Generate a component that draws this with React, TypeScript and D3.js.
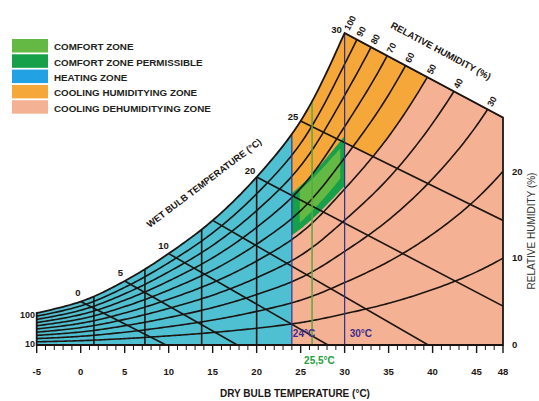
import React, { useRef, useEffect } from 'react';
import * as d3 from 'd3';

// saturation humidity (g/kg)
const satTemps = [-5, 0, 5, 10, 15, 20, 25, 30, 35, 40, 45, 48];
const satHumidity = [2.8, 3.8, 5.6, 8.0, 10.9, 14.7, 19.6, 27.3, 36.5, 48.5, 64, 76];

const rhCurves = [10, 20, 30, 40, 50, 60, 70, 80, 90];
const rhTopLabels = [100, 90, 80, 70, 60, 50, 40, 30];
const rhRightLabels = [0, 10, 20];
const rhLeftLabels = [100, 10];

// wet bulb lines: start on the saturation curve, end point
const wetBulbTemps = [0, 5, 10, 15, 20, 25, 30];
const wetBulbEnds: [number, number][] = [[9.7, 0], [17.8, 0], [28.1, 0], [39.5, 0], [48, 3.4], [48, 10.9], [48, 19.9]];
const wetBulbLabels = [0, 5, 10, 20, 25, 30];

const dryBulbLines = [1.5, 7.3, 13.75, 20];
const xTicks = [-5, 0, 5, 10, 15, 20, 25, 30, 35, 40, 45, 48];

const markerTemps = [24, 30, 26.3];
const markerLabels = ['24°C', '30°C', '25,5°C'];
const markerColors = ['#2e3192', '#2e3192', '#5aaa3c'];

// zones (temperature range, RH bounds at each end)
const permTemps = [24, 30];
const permLow = [52, 51];
const permHigh = [72, 67];
const comfortTemps = [24.9, 29.5];
const comfortLow = [55, 55];
const comfortHigh = [69.5, 65];

const legendLabels = ['COMFORT ZONE', 'COMFORT ZONE PERMISSIBLE', 'HEATING ZONE', 'COOLING HUMIDITYING ZONE', 'COOLING DEHUMIDITYING ZONE'];
const legendColors = ['#64b945', '#17a04a', '#22a2e4', '#f5a73a', '#f5b193'];

const FONT = '"Liberation Sans", Arial, sans-serif';

function ws(t: number) {
  const L = satHumidity.map(Math.log);
  const n = satTemps.length;
  let i = d3.bisectRight(satTemps, t) - 1;
  i = Math.max(0, Math.min(n - 2, i));
  const tan = (j: number) => {
    if (j === 0) return (L[1] - L[0]) / (satTemps[1] - satTemps[0]);
    if (j === n - 1) return (L[n - 1] - L[n - 2]) / (satTemps[n - 1] - satTemps[n - 2]);
    return (L[j + 1] - L[j - 1]) / (satTemps[j + 1] - satTemps[j - 1]);
  };
  const h = satTemps[i + 1] - satTemps[i];
  const s = (t - satTemps[i]) / h;
  const h00 = 2 * s ** 3 - 3 * s ** 2 + 1, h10 = s ** 3 - 2 * s ** 2 + s;
  const h01 = -2 * s ** 3 + 3 * s ** 2, h11 = s ** 3 - s ** 2;
  return Math.exp(h00 * L[i] + h10 * h * tan(i) + h01 * L[i + 1] + h11 * h * tan(i + 1));
}

function App() {
  const svgRef = useRef<SVGSVGElement>(null);

  useEffect(() => {
    const width = 539;
    const height = 401;
    const svg = d3.select(svgRef.current);
    svg.selectAll('*').remove();

    const x = d3.scaleLinear().domain([-5, 48]).range([36.7, 503]);
    const y = d3.scaleLinear().domain([0, 27.3]).range([345, 33]);
    const line = d3.line<[number, number]>().x(d => x(d[0])).y(d => y(d[1]));
    const steps = (a: number, b: number) => {
      const r = d3.range(a, b, 0.25);
      r.push(b);
      return r;
    };

    const wbLine = (k: number) => {
      const t0 = wetBulbTemps[k], w0 = ws(t0);
      const [t1, w1] = wetBulbEnds[k];
      return (t: number) => w0 + (w1 - w0) * (t - t0) / (t1 - t0);
    };
    const topW = wbLine(6);
    const solve = (f: (t: number) => number, a: number, b: number) => {
      for (let i = 0; i < 50; i++) {
        const m = (a + b) / 2;
        if (f(a) * f(m) <= 0) b = m; else a = m;
      }
      return (a + b) / 2;
    };

    // chart outline
    const outline: [number, number][] = steps(-5, 30).map(t => [t, ws(t)] as [number, number]);
    outline.push([48, topW(48)], [48, 0], [-5, 0]);

    svg.append('defs').append('clipPath').attr('id', 'area-clip')
      .append('path').attr('d', line(outline) + 'Z');

    const zones = svg.append('g').attr('clip-path', 'url(#area-clip)');

    // heating / dehumidifying zones
    zones.append('rect').attr('x', x(-5)).attr('y', 0)
      .attr('width', x(24) - x(-5)).attr('height', 345).attr('fill', '#4fc0d2');
    zones.append('rect').attr('x', x(24)).attr('y', 0)
      .attr('width', x(48) - x(24) + 1).attr('height', 345).attr('fill', '#f5b193');

    const band = (temps: number[], low: number[], high: number[]) => {
      const ts = steps(temps[0], temps[1]);
      const f = (t: number) => (t - temps[0]) / (temps[1] - temps[0]);
      const top = ts.map(t => [t, ws(t) * (high[0] + (high[1] - high[0]) * f(t)) / 100] as [number, number]);
      const bot = ts.slice().reverse().map(t => [t, ws(t) * (low[0] + (low[1] - low[0]) * f(t)) / 100] as [number, number]);
      return { top, pts: top.concat(bot) };
    };

    // humidifying zone
    const perm = band(permTemps, permLow, permHigh);
    const wb25 = wbLine(5);
    const tCross = solve(t => 0.5 * ws(t) - wb25(t), 30, 45);
    const orange: [number, number][] = [[24, 40], ...perm.top, [30, wb25(30)]];
    steps(30, tCross).forEach(t => orange.push([t, wb25(t)]));
    steps(tCross, 44).forEach(t => orange.push([t, 0.5 * ws(t)]));
    orange.push([44, 40]);
    zones.append('path').attr('d', line(orange) + 'Z').attr('fill', '#f5a73a');

    zones.append('path').attr('d', line(perm.pts) + 'Z').attr('fill', '#17a04a');
    const comfort = band(comfortTemps, comfortLow, comfortHigh);
    zones.append('path').attr('d', line(comfort.pts) + 'Z').attr('fill', '#64b945');

    const grid = svg.append('g').attr('clip-path', 'url(#area-clip)')
      .attr('fill', 'none').attr('stroke', '#1c1512').attr('stroke-width', 1.6);

    // relative humidity curves
    rhCurves.forEach(r => {
      grid.append('path').attr('d', line(steps(-5, 48).map(t => [t, ws(t) * r / 100] as [number, number])));
    });

    // dry bulb verticals
    dryBulbLines.forEach(t => {
      grid.append('line').attr('x1', x(t)).attr('x2', x(t)).attr('y1', y(0)).attr('y2', y(ws(t)));
    });

    // wet bulb lines
    wetBulbTemps.forEach((t, k) => {
      grid.append('line').attr('x1', x(t)).attr('y1', y(ws(t)))
        .attr('x2', x(wetBulbEnds[k][0])).attr('y2', y(wetBulbEnds[k][1]));
    });

    // marker lines
    markerTemps.forEach((t, i) => {
      svg.append('line').attr('x1', x(t)).attr('x2', x(t)).attr('y1', y(0))
        .attr('y2', t <= 30 ? y(ws(t)) : y(topW(t)))
        .attr('stroke', markerColors[i]).attr('stroke-width', i === 2 ? 1.5 : 1.2);
    });

    // outline
    svg.append('path').attr('d', line(outline) + 'Z')
      .attr('fill', 'none').attr('stroke', '#1c1512').attr('stroke-width', 1.8);

    // bottom axis
    const axis = svg.append('g').attr('stroke', '#1c1512');
    axis.append('line').attr('x1', x(-5)).attr('x2', x(48)).attr('y1', 345).attr('y2', 345).attr('stroke-width', 1.8);
    d3.range(-5, 48.01, 1).forEach(t => {
      const major = xTicks.includes(t);
      axis.append('line').attr('x1', x(t)).attr('x2', x(t)).attr('y1', 345)
        .attr('y2', major ? 353 : 350).attr('stroke-width', major ? 1.4 : 1);
    });

    const txt = svg.append('g').attr('font-family', FONT).attr('font-weight', 'bold').attr('fill', '#1c1512');

    xTicks.forEach(t => {
      txt.append('text').attr('x', x(t)).attr('y', 375).attr('text-anchor', 'middle')
        .attr('font-size', 9.5).text(t);
    });
    txt.append('text').attr('x', 295).attr('y', 397).attr('text-anchor', 'middle')
      .attr('font-size', 10).text('DRY BULB TEMPERATURE (°C)');

    // right axis labels
    rhRightLabels.forEach(r => {
      txt.append('text').attr('x', 512).attr('y', y(ws(48) * r / 100)).attr('dy', '0.35em')
        .attr('font-size', 9.5).text(r);
    });
    svg.append('text').attr('transform', 'translate(535,231) rotate(-90)')
      .attr('text-anchor', 'middle').attr('font-family', FONT).attr('font-size', 10)
      .attr('fill', '#333').text('RELATIVE HUMIDITY (%)');

    // left labels
    rhLeftLabels.forEach(r => {
      txt.append('text').attr('x', 35).attr('y', y(ws(-5) * r / 100) + 2).attr('dy', '0.35em')
        .attr('text-anchor', 'end').attr('font-size', 9).text(r);
    });

    // top RH labels
    const ang = Math.atan2(y(topW(48)) - y(topW(30)), x(48) - x(30));
    const nx = Math.sin(ang), ny = -Math.cos(ang);
    rhTopLabels.forEach(r => {
      const t = r === 100 ? 30 : solve(tt => r / 100 * ws(tt) - topW(tt), 30, 48);
      const px = x(t) + nx * 4, py = y(topW(t)) + ny * 4;
      txt.append('text').attr('transform', `translate(${px},${py}) rotate(${(ang * 180) / Math.PI - 90})`)
        .attr('dy', '0.35em').attr('font-size', 9).text(r);
    });
    txt.append('text').attr('transform', `translate(441,51) rotate(${(ang * 180) / Math.PI})`)
      .attr('text-anchor', 'middle').attr('dy', '0.35em').attr('font-size', 9.5).text('RELATIVE HUMIDITY (%)');

    // wet bulb labels
    wetBulbLabels.forEach(t => {
      const s = (y(ws(t + 0.1)) - y(ws(t - 0.1))) / (x(t + 0.1) - x(t - 0.1));
      const len = Math.sqrt(s * s + 1);
      const px = x(t) + (s / len) * 9, py = y(ws(t)) - (1 / len) * 9;
      txt.append('text').attr('x', px).attr('y', py).attr('dy', '0.35em')
        .attr('text-anchor', 'middle').attr('font-size', 9.5).text(t);
    });
    txt.append('text').attr('transform', 'translate(204,183) rotate(-37)')
      .attr('text-anchor', 'middle').attr('dy', '0.35em').attr('font-size', 9.3)
      .text('WET BULB TEMPERATURE (°C)');

    // marker labels
    const mPos = [[1, 333], [5, 333], [-8, 360]];
    markerTemps.forEach((t, i) => {
      svg.append('text').attr('x', x(t) + mPos[i][0]).attr('y', mPos[i][1])
        .attr('dy', '0.35em').attr('font-family', FONT).attr('font-weight', 'bold')
        .attr('font-size', 10).attr('fill', i === 2 ? '#23a13c' : '#3a2d8f').text(markerLabels[i]);
    });

    // legend
    const legend = svg.append('g').attr('transform', 'translate(12,39)');
    legendLabels.forEach((label, i) => {
      legend.append('rect').attr('x', 0).attr('y', i * 15.3).attr('width', 36).attr('height', 13.5)
        .attr('fill', legendColors[i]);
      legend.append('text').attr('x', 42).attr('y', i * 15.3 + 8).attr('dy', '0.35em')
        .attr('font-family', FONT).attr('font-weight', 'bold').attr('font-size', 9.8)
        .attr('fill', '#231f20').text(label);
    });

    svg.attr('viewBox', `0 0 ${width} ${height}`);
  }, []);

  return (
    <svg ref={svgRef} width={539} height={401}
      style={{ position: 'absolute', left: 0, top: 0, background: '#fff' }} />
  );
}

export default App;
